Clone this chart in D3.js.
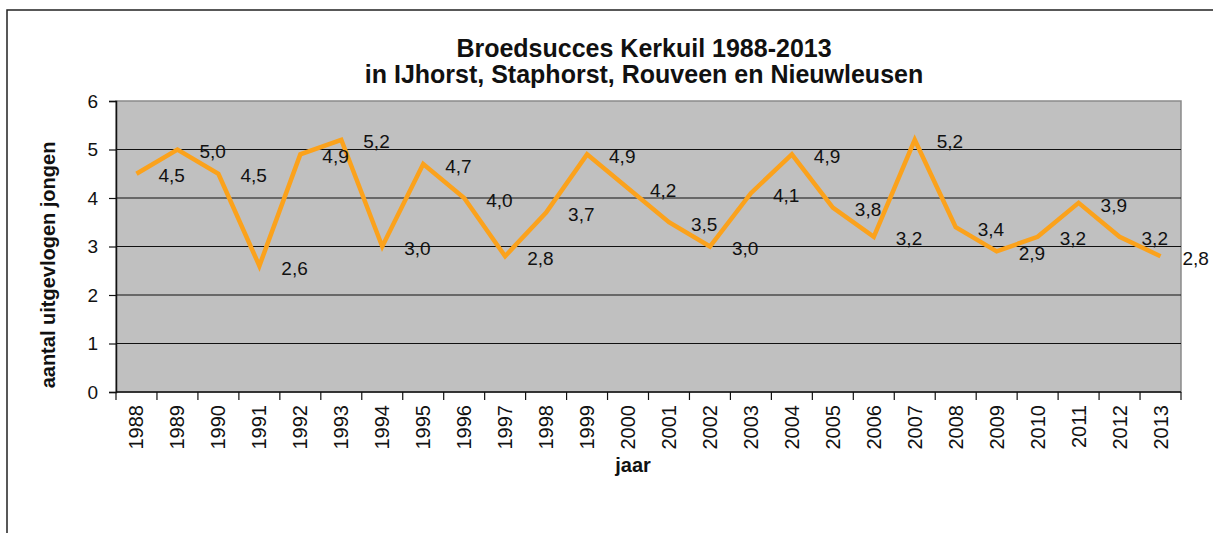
<!DOCTYPE html>
<html>
<head>
<meta charset="utf-8">
<script src="https://cdn.jsdelivr.net/npm/d3@7"></script>
<style>
  body { margin: 0; background: #fff; }
  text { font-family: "Liberation Sans", Arial, sans-serif; fill: #111; }
</style>
</head>
<body>
<div id="chart"></div>
<script>
// jaartallen en broedsucces (gemiddeld aantal uitgevlogen jongen)
const years = ["1988","1989","1990","1991","1992","1993","1994","1995","1996","1997","1998","1999","2000",
  "2001","2002","2003","2004","2005","2006","2007","2008","2009","2010","2011","2012","2013"];
const values = [4.5,5.0,4.5,2.6,4.9,5.2,3.0,4.7,4.0,2.8,3.7,4.9,4.2,3.5,3.0,4.1,4.9,3.8,3.2,5.2,3.4,2.9,3.2,3.9,3.2,2.8];
const yTicks = [0,1,2,3,4,5,6];
const titleLines = ["Broedsucces Kerkuil 1988-2013", "in IJhorst, Staphorst, Rouveen en Nieuwleusen"];

const W = 1213, H = 533;
const plot = {left: 116, right: 1181, top: 101, bottom: 392};

const svg = d3.select("#chart").append("svg")
  .attr("width", W).attr("height", H);

// outer frame
svg.append("rect")
  .attr("x", 7).attr("y", 10).attr("width", 1230).attr("height", 560)
  .attr("fill", "none").attr("stroke", "#222").attr("stroke-width", 1.5);

const x = d3.scaleBand().domain(years).range([plot.left, plot.right]);
const y = d3.scaleLinear().domain([0, 6]).range([plot.bottom, plot.top]);

// plot area
svg.append("rect")
  .attr("x", plot.left).attr("y", plot.top)
  .attr("width", plot.right - plot.left).attr("height", plot.bottom - plot.top)
  .attr("fill", "#c0c0c0").attr("stroke", "#8a8a8a").attr("stroke-width", 1.5);

// gridlines
svg.append("g").selectAll("line").data(yTicks.filter(d => d > 0 && d < 6)).join("line")
  .attr("x1", plot.left).attr("x2", plot.right)
  .attr("y1", d => y(d)).attr("y2", d => y(d))
  .attr("stroke", "#111").attr("stroke-width", 1.2);

// y axis
const yAxis = svg.append("g").attr("transform", `translate(${plot.left},0)`)
  .call(d3.axisLeft(y).tickValues(yTicks).tickSize(7).tickPadding(11).tickFormat(d3.format("d")));
yAxis.select(".domain").attr("stroke", "#111").attr("stroke-width", 1.5);
yAxis.selectAll(".tick line").attr("stroke", "#111").attr("stroke-width", 1.2);
yAxis.selectAll("text").attr("font-size", 19).attr("fill", "#111")
  .style("font-family", "'Liberation Sans', Arial, sans-serif");

// x axis: ticks between categories
const xg = svg.append("g");
xg.append("line")
  .attr("x1", plot.left).attr("x2", plot.right)
  .attr("y1", plot.bottom).attr("y2", plot.bottom)
  .attr("stroke", "#111").attr("stroke-width", 1.5);
const bounds = years.map(d => x(d)).concat([x(years[years.length - 1]) + x.bandwidth()]);
xg.selectAll("line.tk").data(bounds).join("line").attr("class", "tk")
  .attr("x1", d => d).attr("x2", d => d)
  .attr("y1", plot.bottom).attr("y2", plot.bottom + 8)
  .attr("stroke", "#111").attr("stroke-width", 1.2);
xg.selectAll("text").data(years).join("text")
  .attr("transform", d => `translate(${x(d) + x.bandwidth() / 2},${plot.bottom + 13}) rotate(-90)`)
  .attr("text-anchor", "end").attr("dy", "0.35em")
  .attr("font-size", 20).text(d => d);

// line
const cx = d => x(d) + x.bandwidth() / 2;
svg.append("path")
  .datum(values)
  .attr("fill", "none").attr("stroke", "#fba21c").attr("stroke-width", 4.5)
  .attr("stroke-linejoin", "miter")
  .attr("d", d3.line().x((d, i) => cx(years[i])).y(d => y(d)));

// data labels
const fmt = v => d3.format(".1f")(v).replace(".", ",");
svg.append("g").selectAll("text").data(values).join("text")
  .attr("x", (d, i) => cx(years[i]) + 22)
  .attr("y", d => y(d) + 2)
  .attr("dy", "0.35em")
  .attr("font-size", 19).attr("fill", "#222")
  .text(fmt);

// titles
svg.append("g").selectAll("text").data(titleLines).join("text")
  .attr("x", 644).attr("y", (d, i) => 57 + i * 26)
  .attr("text-anchor", "middle")
  .attr("font-size", 25).attr("font-weight", "bold")
  .text(d => d);

svg.append("text")
  .attr("transform", "translate(55,265) rotate(-90)")
  .attr("text-anchor", "middle")
  .attr("font-size", 20).attr("font-weight", "bold")
  .text("aantal uitgevlogen jongen");

svg.append("text")
  .attr("x", 633).attr("y", 472)
  .attr("text-anchor", "middle")
  .attr("font-size", 20).attr("font-weight", "bold")
  .text("jaar");
</script>
</body>
</html>
